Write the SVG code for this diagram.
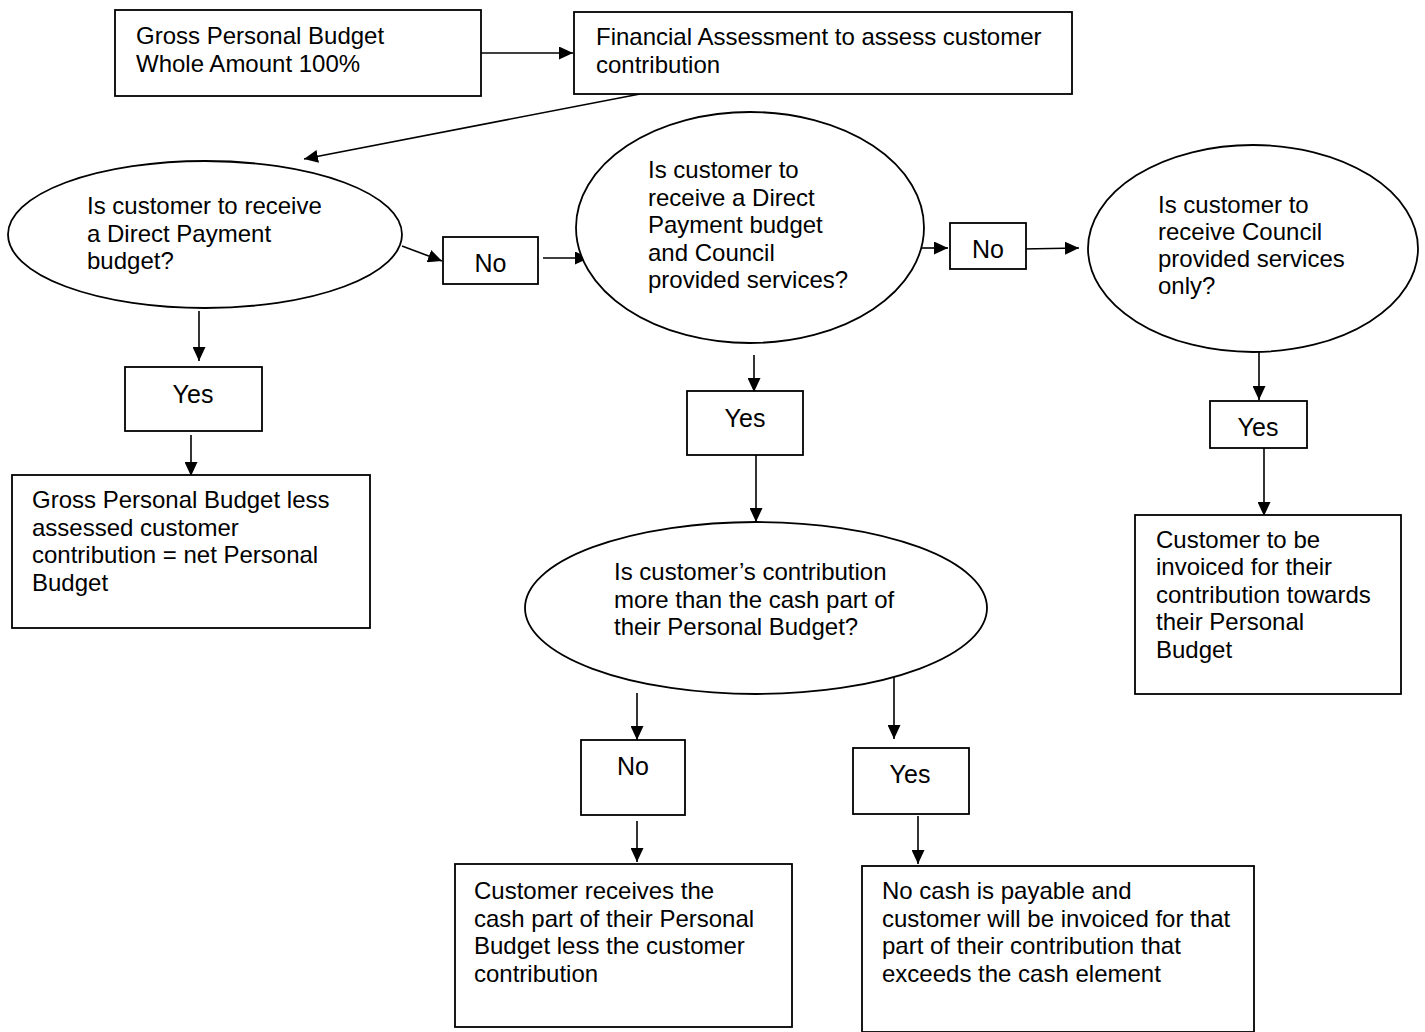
<svg xmlns="http://www.w3.org/2000/svg" width="1425" height="1032" viewBox="0 0 1425 1032">
<style>
.shape{fill:#fff;stroke:#000;stroke-width:1.8}
.t{font-family:"Liberation Sans",Arial,sans-serif;font-size:24px;fill:#000}
.lbl{font-family:"Liberation Sans",Arial,sans-serif;font-size:25px;fill:#000;text-anchor:middle}
.c{fill:none;stroke:#000;stroke-width:1.6;marker-end:url(#ah)}
</style>
<defs>
<marker id="ah" markerUnits="userSpaceOnUse" markerWidth="15" markerHeight="13" refX="14" refY="6.5" orient="auto">
<path d="M0,0 L14,6.5 L0,13 z" fill="#000"/>
</marker>
</defs>
<rect width="1425" height="1032" fill="#fff"/>

<g id="connectors">
<line class="c" x1="481" y1="53" x2="573" y2="53"/>
<line class="c" x1="640" y1="94" x2="304" y2="159"/>
<line class="c" x1="402" y1="246" x2="442" y2="261"/>
<line class="c" x1="543" y1="258" x2="589" y2="258"/>
<line class="c" x1="917" y1="248" x2="948" y2="248"/>
<line class="c" x1="1022" y1="249" x2="1079" y2="248"/>
<line class="c" x1="199" y1="311" x2="199" y2="361"/>
<line class="c" x1="191" y1="435" x2="191" y2="476"/>
<line class="c" x1="754" y1="355" x2="754" y2="392"/>
<line class="c" x1="756" y1="455" x2="756" y2="522"/>
<line class="c" x1="1259" y1="352" x2="1259" y2="400"/>
<line class="c" x1="1264" y1="448" x2="1264" y2="516"/>
<line class="c" x1="637" y1="693" x2="637" y2="740"/>
<line class="c" x1="894" y1="677" x2="894" y2="739"/>
<line class="c" x1="637" y1="821" x2="637" y2="862"/>
<line class="c" x1="918" y1="816" x2="918" y2="864"/>
</g>

<g id="gross-budget">
<rect class="shape" x="115" y="10" width="366" height="86"/>
<text class="t" x="136" y="44">Gross Personal Budget</text>
<text class="t" x="136" y="72">Whole Amount 100%</text>
</g>

<g id="financial-assessment">
<rect class="shape" x="574" y="12" width="498" height="82"/>
<text class="t" x="596" y="45">Financial Assessment to assess customer</text>
<text class="t" x="596" y="73">contribution</text>
</g>

<g id="q-direct-payment">
<ellipse class="shape" cx="205" cy="234.5" rx="197" ry="73.5"/>
<text class="t" x="87" y="214">Is customer to receive</text>
<text class="t" x="87" y="242">a Direct Payment</text>
<text class="t" x="87" y="269">budget?</text>
</g>

<g id="no-1">
<rect class="shape" x="443" y="237" width="95" height="47"/>
<text class="lbl" x="490.5" y="272">No</text>
</g>

<g id="q-dp-and-council">
<ellipse class="shape" cx="750" cy="227.5" rx="174" ry="115.5"/>
<text class="t" x="648" y="178">Is customer to</text>
<text class="t" x="648" y="206">receive a Direct</text>
<text class="t" x="648" y="233">Payment budget</text>
<text class="t" x="648" y="261">and Council</text>
<text class="t" x="648" y="288">provided services?</text>
</g>

<g id="no-2">
<rect class="shape" x="950" y="223" width="76" height="46"/>
<text class="lbl" x="988" y="258">No</text>
</g>

<g id="q-council-only">
<ellipse class="shape" cx="1253" cy="248.5" rx="165" ry="103.5"/>
<text class="t" x="1158" y="213">Is customer to</text>
<text class="t" x="1158" y="240">receive Council</text>
<text class="t" x="1158" y="267">provided services</text>
<text class="t" x="1158" y="294">only?</text>
</g>

<g id="yes-1">
<rect class="shape" x="125" y="367" width="137" height="64"/>
<text class="lbl" x="193" y="403">Yes</text>
</g>

<g id="net-budget">
<rect class="shape" x="12" y="475" width="358" height="153"/>
<text class="t" x="32" y="508">Gross Personal Budget less</text>
<text class="t" x="32" y="536">assessed customer</text>
<text class="t" x="32" y="563">contribution = net Personal</text>
<text class="t" x="32" y="591">Budget</text>
</g>

<g id="yes-2">
<rect class="shape" x="687" y="391" width="116" height="64"/>
<text class="lbl" x="745" y="427">Yes</text>
</g>

<g id="yes-3">
<rect class="shape" x="1210" y="401" width="97" height="47"/>
<text class="lbl" x="1258" y="436">Yes</text>
</g>

<g id="invoiced-council">
<rect class="shape" x="1135" y="515" width="266" height="179"/>
<text class="t" x="1156" y="548">Customer to be</text>
<text class="t" x="1156" y="575">invoiced for their</text>
<text class="t" x="1156" y="603">contribution towards</text>
<text class="t" x="1156" y="630">their Personal</text>
<text class="t" x="1156" y="658">Budget</text>
</g>

<g id="q-contribution-more">
<ellipse class="shape" cx="756" cy="608" rx="231" ry="86"/>
<text class="t" x="614" y="580">Is customer’s contribution</text>
<text class="t" x="614" y="608">more than the cash part of</text>
<text class="t" x="614" y="635">their Personal Budget?</text>
</g>

<g id="no-3">
<rect class="shape" x="581" y="740" width="104" height="75"/>
<text class="lbl" x="633" y="775">No</text>
</g>

<g id="yes-4">
<rect class="shape" x="853" y="748" width="116" height="66"/>
<text class="lbl" x="910" y="783">Yes</text>
</g>

<g id="cash-less-contribution">
<rect class="shape" x="455" y="864" width="337" height="163"/>
<text class="t" x="474" y="899">Customer receives the</text>
<text class="t" x="474" y="927">cash part of their Personal</text>
<text class="t" x="474" y="954">Budget less the customer</text>
<text class="t" x="474" y="982">contribution</text>
</g>

<g id="no-cash-payable">
<rect class="shape" x="862" y="866" width="392" height="166"/>
<text class="t" x="882" y="899">No cash is payable and</text>
<text class="t" x="882" y="927">customer will be invoiced for that</text>
<text class="t" x="882" y="954">part of their contribution that</text>
<text class="t" x="882" y="982">exceeds the cash element</text>
</g>
</svg>
